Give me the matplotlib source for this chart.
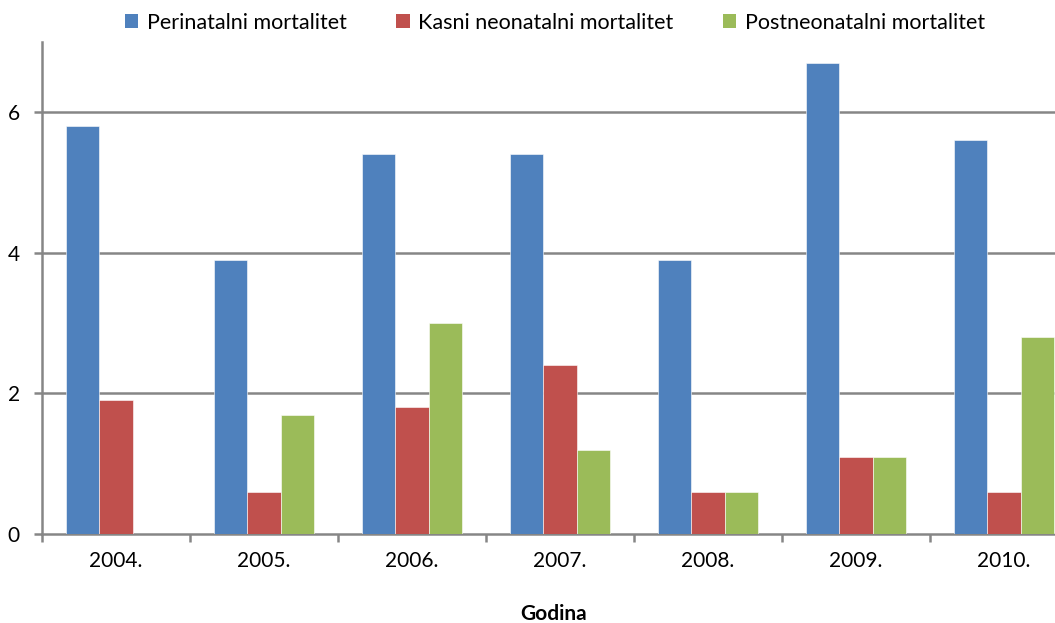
import matplotlib
matplotlib.use('Agg')
import matplotlib.pyplot as plt
import numpy as np
from matplotlib.patches import Patch

years = ['2004.', '2005.', '2006.', '2007.', '2008.', '2009.', '2010.']
perinatalni = [5.8, 3.9, 5.4, 5.4, 3.9, 6.7, 5.6]
kasni = [1.9, 0.6, 1.8, 2.4, 0.6, 1.1, 0.6]
postneo = [0.0, 1.7, 3.0, 1.2, 0.6, 1.1, 2.8]
series_names = ['Perinatalni mortalitet', 'Kasni neonatalni mortalitet', 'Postneonatalni mortalitet']
colors = ['#4F81BD', '#C0504D', '#9BBB59']

plt.rcParams['font.family'] = ['Lato', 'DejaVu Sans']

fig = plt.figure(figsize=(10.55, 6.23), dpi=100)
ax = fig.add_axes([42 / 1055, 1 - 534 / 623, 1036 / 1055, 492 / 623])

x = np.arange(len(years))
w = 0.223
for i, vals in enumerate([perinatalni, kasni, postneo]):
    ax.bar(x + (i - 1) * w, vals, width=w, color=colors[i],
           edgecolor='white', linewidth=0.4, zorder=3)

grid_c = '#868686'
ax.set_xlim(-0.5, 6.5)
ax.set_ylim(0, 7)
ax.set_yticks([0, 2, 4, 6])
for y in [2, 4, 6]:
    ax.axhline(y, color=grid_c, linewidth=1.8, zorder=1)

ax.set_xticks(x)
ax.set_xticklabels(years, fontsize=15)
ax.set_xticks(np.arange(-0.5, 7, 1), minor=True)
ax.tick_params(axis='x', which='major', length=0, pad=12)
ax.tick_params(axis='x', which='minor', length=6, width=1.8, color=grid_c, direction='out')
ax.tick_params(axis='y', length=6, width=1.8, color=grid_c, direction='out', pad=10, labelsize=15)

for s in ['top', 'right']:
    ax.spines[s].set_visible(False)
for s in ['left', 'bottom']:
    ax.spines[s].set_color(grid_c)
    ax.spines[s].set_linewidth(1.8)

fig.text(554 / 1055, 1 - 614 / 623, 'Godina', ha='center', va='center',
         fontsize=15, fontweight='bold')

handles = [Patch(facecolor=c, edgecolor='none') for c in colors]
fig.legend(handles, series_names, loc='center', bbox_to_anchor=(555 / 1055, 1 - 23 / 623),
           ncol=3, frameon=False, fontsize=15.5, handlelength=0.62, handleheight=0.62,
           handletextpad=0.4, columnspacing=2.3)

fig.savefig('out.png', dpi=100)
